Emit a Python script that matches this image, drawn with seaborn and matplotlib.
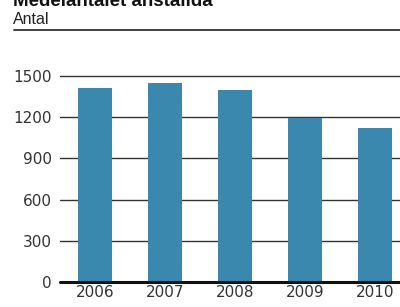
import matplotlib
matplotlib.use("Agg")
import matplotlib.pyplot as plt
import seaborn as sns
from matplotlib.lines import Line2D

# Data
years = ["2006", "2007", "2008", "2009", "2010"]
employees = [1413, 1449, 1398, 1197, 1121]
yticks = [0, 300, 600, 900, 1200, 1500]

BAR_COLOR = "#3a88ae"
W, H = 400, 307

sns.set_style("white")
plt.rcParams["font.family"] = ["DejaVu Sans"]

fig = plt.figure(figsize=(W / 100, H / 100), dpi=100)
ax = fig.add_axes([60 / W, 1 - 282 / H, 1 - 60 / W, (282 - 75.3) / H])

sns.barplot(x=years, y=employees, color=BAR_COLOR, width=0.49,
            saturation=1, linewidth=0, ax=ax, zorder=3)

ax.set_ylim(0, 1505)
ax.set_xlim(-0.5, 4.36)
ax.set_yticks(yticks)
ax.set_yticklabels([str(t) for t in yticks])
for t in yticks[1:]:
    ax.axhline(t, color="#333333", linewidth=1.0, zorder=1)
ax.axhline(0, color="#111111", linewidth=2.2, zorder=4, clip_on=False)

for s in ax.spines.values():
    s.set_visible(False)
ax.tick_params(axis="y", length=0, pad=6, labelsize=11, labelcolor="#333333")
ax.tick_params(axis="x", length=0, pad=2, labelsize=11, labelcolor="#333333")
ax.set_xlabel("")
ax.set_ylabel("")

# header
fig.text(13 / W, 1 - 6 / H, "Medelantalet anställda", fontsize=13.5,
         fontweight="bold", family=["Liberation Sans Narrow", "Liberation Sans"],
         va="baseline", ha="left", color="#111111")
fig.text(13 / W, 1 - 24 / H, "Antal", fontsize=11.5,
         family=["Liberation Sans Narrow", "Liberation Sans"],
         va="baseline", ha="left", color="#222222")
fig.add_artist(Line2D([14 / W, 1.0], [1 - 30 / H, 1 - 30 / H],
                      color="#333333", linewidth=1.3))

fig.savefig("out.png", dpi=100)
